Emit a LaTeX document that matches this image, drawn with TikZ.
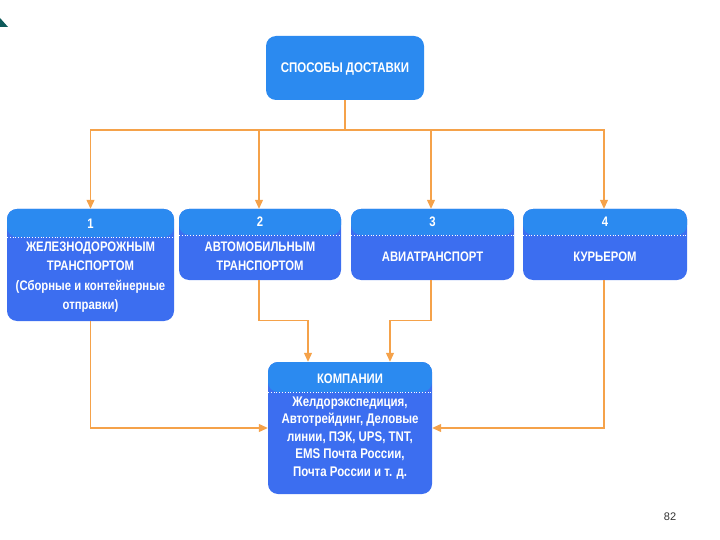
\documentclass[tikz,border=0pt]{standalone}
\usepackage{fontspec}
\setmainfont{Liberation Sans}
\newfontfamily\cond{Liberation Sans}[FakeStretch=0.82]
\usetikzlibrary{arrows.meta}
\definecolor{hdr}{HTML}{2B8AF0}
\definecolor{bdy}{HTML}{3C6EF0}
\definecolor{org}{HTML}{F5A24A}
\definecolor{tealc}{HTML}{0E5A5A}
\tikzset{
  box/.style={draw=none, fill=bdy, rounded corners=10pt, inner sep=0pt},
  hbox/.style={box, path picture={
      \fill[hdr] (path picture bounding box.north west) rectangle ([yshift=-#1]path picture bounding box.north east);
      \draw[white, dotted, line width=0.8pt] ([yshift=-#1]path picture bounding box.north west) -- ([yshift=-#1]path picture bounding box.north east);
  }},
  txt/.style={text=white, font=\cond\bfseries\fontsize{13.8}{19.5}\selectfont, align=center, inner sep=0pt},
  conn/.style={draw=org, line width=1.2pt},
  arr/.style={conn, -{Triangle[length=9pt,width=8pt]}}
}
\begin{document}
\begin{tikzpicture}[x=1pt,y=-1pt]
\useasboundingbox (0,0) rectangle (720,540);
\fill[tealc] (0,18) -- (8,27) -- (0,27) -- cycle;

\node[box, fill=hdr, minimum width=158pt, minimum height=64pt] (top) at (345,68) {};
\node[txt, font=\cond\bfseries\fontsize{14}{16}\selectfont] (toptxt) at (345,69) {СПОСОБЫ ДОСТАВКИ};

\node[hbox=28pt, minimum width=167pt, minimum height=112pt] (b1) at (90.5,265) {};
\node[hbox=26pt, minimum width=162pt, minimum height=71pt] (b2) at (260,244.5) {};
\node[hbox=26pt, minimum width=163pt, minimum height=71pt] (b3) at (432.5,244.5) {};
\node[hbox=26pt, minimum width=164pt, minimum height=71pt] (b4) at (605,244.5) {};
\node[hbox=30pt, minimum width=164pt, minimum height=132pt] (comp) at (350,428) {};

\node[txt] (n1) at (90.5,224) {1};
\node[txt] (n2) at (260,222) {2};
\node[txt] (n3) at (432.5,222) {3};
\node[txt] (n4) at (605,222) {4};
\node[txt] (t1) at (90.5,277) {ЖЕЛЕЗНОДОРОЖНЫМ\\ТРАНСПОРТОМ\\(Сборные и контейнерные\\отправки)};
\node[txt] (t2) at (260,256) {АВТОМОБИЛЬНЫМ\\ТРАНСПОРТОМ};
\node[txt] (t3) at (432.5,257) {АВИАТРАНСПОРТ};
\node[txt] (t4) at (605,257) {КУРЬЕРОМ};
\node[txt] (ct) at (350,379) {КОМПАНИИ};
\node[txt, font=\cond\bfseries\fontsize{14}{17.5}\selectfont] (cb) at (350,438) {Желдорэкспедиция,\\Автотрейдинг, Деловые\\линии, ПЭК, UPS, TNT,\\EMS Почта России,\\Почта России и т. д.};

\coordinate (hub) at (345,130);
\draw[conn] (top.south) -- (hub);
\draw[arr] (hub) -| (b1.north);
\draw[arr] (hub) -| ([xshift=-1pt]b2.north);
\draw[arr] (hub) -| ([xshift=-1.5pt]b3.north);
\draw[arr] (hub) -| ([xshift=-1pt]b4.north);

\draw[arr] ([xshift=-1pt]b2.south) -- ++(0,40) -| ([xshift=-42pt]comp.north);
\draw[arr] ([xshift=-1.5pt]b3.south) -- ++(0,40) -| ([xshift=40pt]comp.north);
\draw[arr] (b1.south) |- (comp.west);
\draw[arr] ([xshift=-1pt]b4.south) |- (comp.east);

\node[font=\fontsize{11}{13}\selectfont, text=black!80] (pg) at (670,517) {82};
\end{tikzpicture}
\end{document}
